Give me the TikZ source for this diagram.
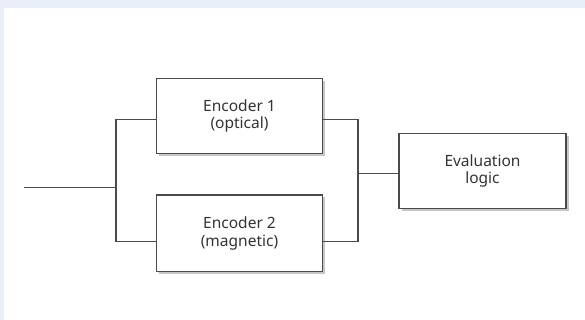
\documentclass[tikz,border=0pt]{standalone}
\usepackage{fontspec}
\setmainfont{Noto Sans}
\usetikzlibrary{shadows,calc}
\definecolor{bandblue}{HTML}{EAEEF8}
\definecolor{linegray}{HTML}{4A4A4A}
\definecolor{textgray}{HTML}{333333}
\tikzset{
  blockbox/.style={draw=linegray, line width=1.4pt, fill=white, align=center,
    text=textgray, font=\fontsize{15.5}{17.5}\selectfont, inner sep=0pt,
    drop shadow={shadow xshift=2.5pt, shadow yshift=-2.5pt, opacity=0.22, fill=black}},
  wire/.style={draw=linegray, line width=1.4pt}
}
\begin{document}
\begin{tikzpicture}[x=1pt,y=-1pt]
\fill[bandblue] (0,0) rectangle (585,320);
\fill[white] (4,8) rectangle (585,320);
\useasboundingbox (0,0) rectangle (585,320);
\node[blockbox, minimum width=166pt, minimum height=75pt] (e1) at (239.5,115.8) {Encoder 1\\(optical)};
\node[blockbox, minimum width=166pt, minimum height=76.7pt] (e2) at (239.5,233.3) {Encoder 2\\(magnetic)};
\node[blockbox, minimum width=167pt, minimum height=75pt] (ev) at (482.5,170.8) {Evaluation\\logic};
\coordinate (in) at (24,187.3);
\coordinate (lb1) at (116,119.3);
\coordinate (lb2) at (116,241.7);
\coordinate (rb1) at (358,119.3);
\coordinate (rb2) at (358,241.7);
\coordinate (mid) at (358,173.3);
\draw[wire] (in) -- (in -| lb1);
\draw[wire] (lb1 -| e1.west) -- (lb1) -- (lb2) -- (lb2 -| e2.west);
\draw[wire] (rb1 -| e1.east) -- (rb1) -- (rb2) -- (rb2 -| e2.east);
\draw[wire] (mid) -- (mid -| ev.west);
\end{tikzpicture}
\end{document}
